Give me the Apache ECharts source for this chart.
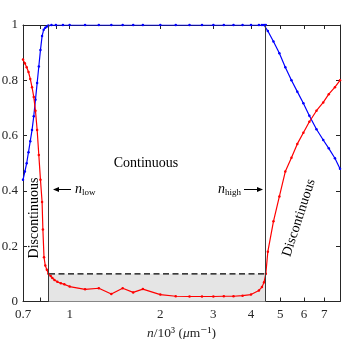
<!DOCTYPE html>
<html>
<head>
<meta charset="utf-8">
<script src="https://cdn.jsdelivr.net/npm/echarts@6/dist/echarts.min.js"></script>
<style>
  html, body { margin: 0; padding: 0; background: #fff; }
  #main { width: 349px; height: 339px; }
</style>
</head>
<body>
<div id="main"></div>
<script>
// n / 10^3 values (log axis) and fractions
var nBlue = [0.70, 0.71, 0.72, 0.73, 0.74, 0.75, 0.76, 0.77, 0.78, 0.79, 0.80, 0.81, 0.82, 0.83, 0.84, 0.85,
    0.87, 0.90, 0.95, 1.0, 1.125, 1.25, 1.375, 1.5, 1.625, 1.75, 2.0, 2.25, 2.5, 2.75, 3.0, 3.25, 3.5, 3.75,
    4.0, 4.25, 4.35, 4.42, 4.48, 4.55, 4.75, 4.97, 5.2, 5.45, 5.7, 5.97, 6.25, 6.6, 6.95, 7.25, 7.6, 7.9];
var blueVals = [0.44, 0.47, 0.50, 0.54, 0.58, 0.62, 0.67, 0.73, 0.79, 0.85, 0.91, 0.96, 0.983, 0.99, 0.995, 0.998,
    1, 1, 1, 1, 1, 1, 1, 1, 1, 1, 1, 1, 1, 1, 1, 1, 1, 1,
    1, 1, 1, 1, 1, 0.978, 0.94, 0.898, 0.847, 0.80, 0.759, 0.717, 0.672, 0.623, 0.584, 0.554, 0.518, 0.48];

var nRed = [0.70, 0.71, 0.72, 0.73, 0.74, 0.75, 0.76, 0.77, 0.78, 0.79, 0.80, 0.81, 0.815, 0.822, 0.83, 0.84,
    0.85, 0.865, 0.876, 0.89, 0.91, 0.935, 0.96, 1.0, 1.125, 1.25, 1.375, 1.5, 1.625, 1.75, 2.0, 2.25, 2.5,
    2.75, 3.0, 3.25, 3.5, 3.75, 4.0, 4.25, 4.35, 4.42, 4.48, 4.55, 4.75, 4.97, 5.2, 5.45, 5.7, 5.97, 6.25,
    6.6, 6.95, 7.25, 7.6, 7.9];
var redVals = [0.875, 0.862, 0.847, 0.83, 0.805, 0.775, 0.74, 0.69, 0.62, 0.53, 0.44, 0.36, 0.26, 0.16, 0.13, 0.115,
    0.1, 0.092, 0.085, 0.078, 0.071, 0.066, 0.062, 0.054, 0.044, 0.048, 0.027, 0.048, 0.033, 0.045, 0.025, 0.019, 0.018,
    0.018, 0.018, 0.019, 0.019, 0.021, 0.025, 0.04, 0.052, 0.07, 0.1, 0.18, 0.29, 0.38, 0.47, 0.52, 0.57, 0.61, 0.65,
    0.69, 0.72, 0.75, 0.775, 0.80];

var nLow = 0.854, nHigh = 4.48, threshold = 0.1;
var xMin = 0.7, xMax = 7.9;
var xTickVals = [0.7, 0.8, 0.9, 1, 2, 3, 4, 5, 6, 7];
var xLabelVals = [0.7, 1, 2, 3, 4, 5, 6, 7];

var lg = Math.log10;
function pairs(xs, ys) {
    var out = [];
    for (var i = 0; i < xs.length; i++) out.push([lg(xs[i]), ys[i]]);
    return out;
}

var FONT = '"Liberation Serif", "DejaVu Serif", serif';
var INK = '#262626';

var myChart = echarts.init(document.getElementById('main'));

var xBase = {
    type: 'value',
    min: lg(xMin),
    max: lg(xMax),
    splitLine: {show: false},
    axisLine: {show: true, onZero: false, lineStyle: {color: INK, width: 1}},
    axisTick: {show: true, inside: true, length: 4, lineStyle: {color: INK}, customValues: xTickVals.map(lg)}
};

var option = {
    animation: false,
    grid: {left: 23, right: 9, top: 25, bottom: 37.5, containLabel: false, outerBoundsMode: 'none'},
    xAxis: [
        echarts.util.merge({
            position: 'bottom',
            axisLabel: {
                customValues: xLabelVals.map(lg),
                margin: 7,
                fontFamily: FONT, fontSize: 13, color: INK,
                formatter: function (v) {
                    var n = Math.pow(10, v);
                    return String(Math.round(n * 10) / 10);
                }
            },
            name: '{i|n}/10³ ({i|μ}m⁻¹)',
            nameLocation: 'middle',
            nameGap: 17,
            nameTextStyle: {
                fontFamily: FONT, fontSize: 13.5, color: INK,
                rich: {i: {fontFamily: FONT, fontSize: 13.5, fontStyle: 'italic', color: INK}}
            }
        }, xBase, true),
        echarts.util.merge({position: 'top', axisLabel: {show: false}}, xBase, true)
    ],
    yAxis: [
        {
            type: 'value', min: 0, max: 1, interval: 0.2, position: 'left',
            splitLine: {show: false},
            axisLine: {show: true, onZero: false, lineStyle: {color: INK, width: 1}},
            axisTick: {show: true, inside: true, length: 4, lineStyle: {color: INK}},
            axisLabel: {margin: 5, fontFamily: FONT, fontSize: 13, color: INK}
        },
        {
            type: 'value', min: 0, max: 1, interval: 0.2, position: 'right',
            splitLine: {show: false},
            axisLine: {show: true, onZero: false, lineStyle: {color: INK, width: 1}},
            axisTick: {show: true, inside: true, length: 4, lineStyle: {color: INK}},
            axisLabel: {show: false}
        }
    ],
    series: [
        {
            // shaded band under the threshold, dashed threshold, n_low / n_high lines
            type: 'line',
            z: 1,
            silent: true,
            showSymbol: false,
            data: [[lg(nLow), threshold], [lg(nHigh), threshold]],
            lineStyle: {color: '#000', width: 1.3, type: [6, 3.5]},
            areaStyle: {color: '#e5e5e5', opacity: 1, origin: 'start'},
            markLine: {
                silent: true,
                symbol: 'none',
                label: {show: false},
                lineStyle: {color: '#3a3a3a', width: 1, type: 'solid'},
                data: [{xAxis: lg(nLow)}, {xAxis: lg(nHigh)}]
            }
        },
        {
            type: 'line',
            z: 3,
            data: pairs(nBlue, blueVals),
            symbol: 'circle',
            symbolSize: 2.5,
            itemStyle: {color: '#0000ff'},
            lineStyle: {color: '#0000ff', width: 1.2}
        },
        {
            type: 'line',
            z: 4,
            data: pairs(nRed, redVals),
            symbol: 'circle',
            symbolSize: 2.5,
            itemStyle: {color: '#ff0000'},
            lineStyle: {color: '#ff0000', width: 1.2}
        }
    ],
    graphic: [
        {type: 'text', x: 146, y: 163, style: {text: 'Continuous', font: '14px ' + FONT, fill: '#000', align: 'center', verticalAlign: 'middle'}},
        {type: 'text', x: 34, y: 218, rotation: Math.PI / 2,
            style: {text: 'Discontinuous', font: '14px ' + FONT, fill: '#000', align: 'center', verticalAlign: 'middle'}},
        {type: 'text', x: 299, y: 218, rotation: 72 * Math.PI / 180,
            style: {text: 'Discontinuous', font: '14px ' + FONT, fill: '#000', align: 'center', verticalAlign: 'middle'}},
        // n_low label + arrow
        {type: 'line', shape: {x1: 56, y1: 189.5, x2: 71, y2: 189.5}, style: {stroke: '#000', lineWidth: 1}},
        {type: 'polygon', shape: {points: [[53, 189.5], [59, 187], [59, 192]]}, style: {fill: '#000'}},
        {type: 'text', x: 75, y: 189, style: {text: 'n', font: 'italic 14px ' + FONT, fill: '#000', verticalAlign: 'middle'}},
        {type: 'text', x: 82, y: 193, style: {text: 'low', font: '9px ' + FONT, fill: '#000', verticalAlign: 'middle'}},
        // n_high label + arrow
        {type: 'text', x: 218, y: 189, style: {text: 'n', font: 'italic 14px ' + FONT, fill: '#000', verticalAlign: 'middle'}},
        {type: 'text', x: 225, y: 193, style: {text: 'high', font: '9px ' + FONT, fill: '#000', verticalAlign: 'middle'}},
        {type: 'line', shape: {x1: 244, y1: 189.5, x2: 259, y2: 189.5}, style: {stroke: '#000', lineWidth: 1}},
        {type: 'polygon', shape: {points: [[263, 189.5], [257, 187], [257, 192]]}, style: {fill: '#000'}}
    ]
};

myChart.setOption(option, true);
</script>
</body>
</html>
